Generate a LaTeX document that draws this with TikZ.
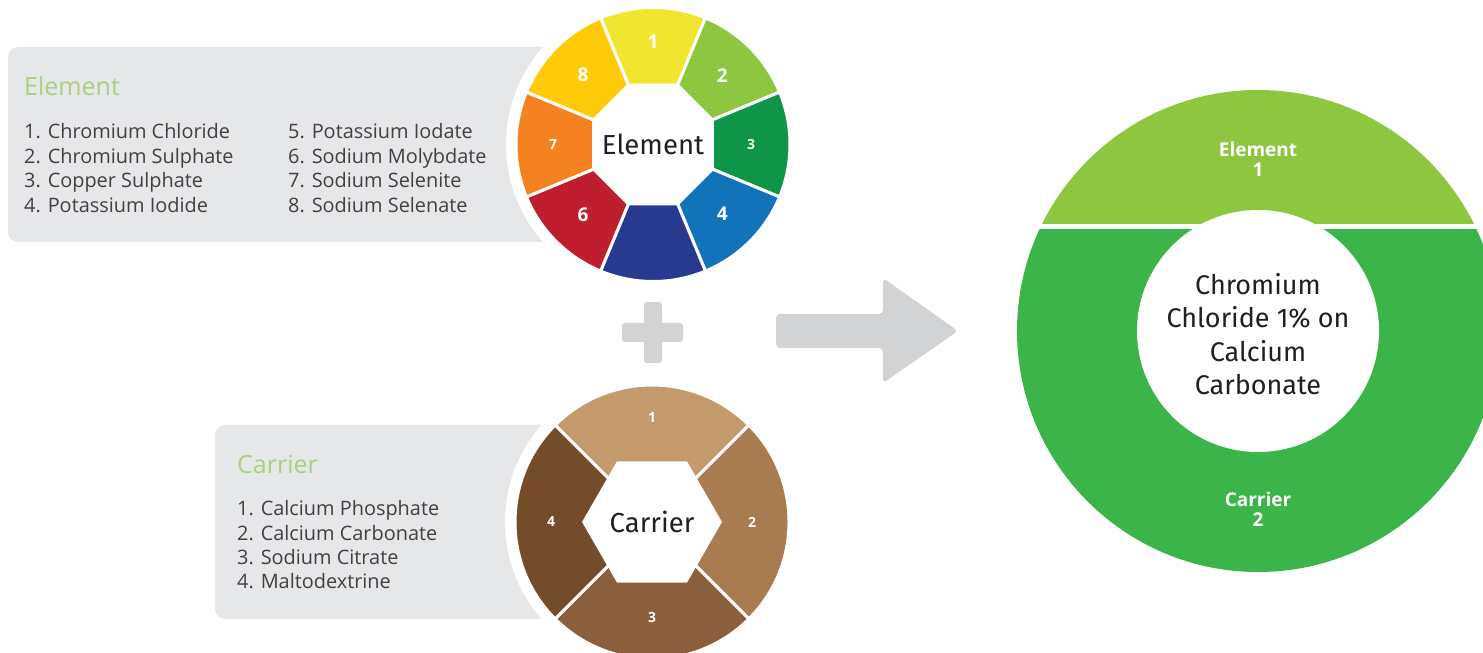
\documentclass[tikz,border=0pt]{standalone}
\usepackage{fontspec}
\setmainfont{Open Sans}
\newfontfamily\fira{Fira Sans}
\usetikzlibrary{shapes.geometric,calc}
\definecolor{panelgray}{HTML}{E6E7E8}
\definecolor{signgray}{HTML}{D1D3D4}
\definecolor{titlegreen}{HTML}{A6D27F}
\definecolor{txt}{HTML}{414042}
\definecolor{txtdark}{HTML}{231F20}
\definecolor{e1}{HTML}{F2E52F}
\definecolor{e2}{HTML}{8DC63F}
\definecolor{e3}{HTML}{0F9547}
\definecolor{e4}{HTML}{1174BB}
\definecolor{e5}{HTML}{283A8F}
\definecolor{e6}{HTML}{BE1E2D}
\definecolor{e7}{HTML}{F48221}
\definecolor{e8}{HTML}{FFCB08}
\definecolor{c1}{HTML}{C49A6C}
\definecolor{c2}{HTML}{A87B50}
\definecolor{c3}{HTML}{8B5E3C}
\definecolor{c4}{HTML}{754C29}
\definecolor{lgreen}{HTML}{8DC63F}
\definecolor{dgreen}{HTML}{3BB54A}
\tikzset{
  panel/.style={fill=panelgray, rounded corners=10pt},
  wedge/.style={draw=white, line width=3pt, line join=miter},
  listtxt/.style={anchor=base west, inner sep=0, text=txt, font=\fontsize{19.9}{24}\selectfont},
  ttl/.style={anchor=base west, inner sep=0, text=titlegreen, font=\fontsize{25}{30}\selectfont},
  num/.style={text=white, inner sep=0, font=\bfseries\fontsize{19}{19}\selectfont},
  smallnum/.style={text=white, inner sep=0, font=\bfseries\fontsize{14}{14}\selectfont},
  hubtxt/.style={text=txtdark, inner sep=0, font=\fira\fontsize{27.5}{30}\selectfont},
  signs/.style={fill=signgray, rounded corners=3pt},
  donutlbl/.style={text=white, inner sep=0, align=center, font=\bfseries\fontsize{19}{20}\selectfont}
}
\begin{document}
\begin{tikzpicture}[x=1pt,y=1pt]
\useasboundingbox (0,0) rectangle (1483,653);
% panels
\fill[panel] (8,411) rectangle (640,606);
\fill[panel] (215,34) rectangle (640,228);
\coordinate (EW) at (653,508.5);
\coordinate (CW) at (652,131);
\fill[white] (EW) circle (147);
\fill[white] (CW) circle (147);
% element list
\node[ttl] (etitle) at (24,557) {Element};
\foreach \t [count=\k] in {1. Chromium Chloride, 2. Chromium Sulphate, 3. Copper Sulphate, 4. Potassium Iodide}
  \node[listtxt] (el\k) at (24,{514-24.5*(\k-1)}) {\t};
\foreach \t [count=\k] in {5. Potassium Iodate, 6. Sodium Molybdate, 7. Sodium Selenite, 8. Sodium Selenate}
  \node[listtxt] (er\k) at (288,{514-24.5*(\k-1)}) {\t};
% carrier list
\node[ttl] (ctitle) at (237,179) {Carrier};
\foreach \t [count=\k] in {1. Calcium Phosphate, 2. Calcium Carbonate, 3. Sodium Citrate, 4. Maltodextrine}
  \node[listtxt] (cl\k) at (237,{137-24.3*(\k-1)}) {\t};
% element wheel
\foreach \c [count=\i] in {e1,e2,e3,e4,e5,e6,e7,e8}{
  \pgfmathsetmacro{\th}{90-45*(\i-1)}
  \fill[\c, wedge] (EW) -- ++({\th+22.5}:137) arc[start angle={\th+22.5}, end angle={\th-22.5}, radius=137] -- cycle;
}
\node[regular polygon, regular polygon sides=8, minimum size=132, fill=white, inner sep=0] (oct) at (EW) {};
\node[hubtxt] (ehub) at (EW) {Element};
\node[num] (n1) at ($(EW)+(90:103)$) {1};
\node[num] (n2) at ($(EW)+(45:98)$) {2};
\node[smallnum] (n3) at ($(EW)+(0:98)$) {3};
\node[num] (n4) at ($(EW)+(-45:98)$) {4};
\node[num] (n6) at ($(EW)+(-135:99)$) {6};
\node[smallnum] (n7) at ($(EW)+(180:100)$) {7};
\node[num] (n8) at ($(EW)+(135:99)$) {8};
% carrier wheel
\foreach \c/\th in {c1/90,c2/0,c3/270,c4/180}{
  \fill[\c, wedge] (CW) -- ++({\th+45}:137) arc[start angle={\th+45}, end angle={\th-45}, radius=137] -- cycle;
}
\node[regular polygon, regular polygon sides=6, minimum size=140, fill=white, inner sep=0] (hex) at (CW) {};
\node[hubtxt] (chub) at (CW) {Carrier};
\node[smallnum] (m1) at ($(CW)+(90:104)$) {1};
\node[smallnum] (m2) at ($(CW)+(0:100)$) {2};
\node[smallnum] (m3) at ($(CW)+(-90:96)$) {3};
\node[smallnum] (m4) at ($(CW)+(180:101)$) {4};
% plus
\fill[signs] (622,311) rectangle (683,330);
\fill[signs] (644,290) rectangle (662,351);
% arrow
\fill[signs, rounded corners=4pt] (776,305) -- (776,339) -- (883,339) -- (883,375) -- (958,322) -- (883,270) -- (883,305) -- cycle;
% result donut
\coordinate (D) at (1258,322);
\begin{scope}
  \clip (1000,429) rectangle (1483,653);
  \fill[lgreen] (D) circle (241);
\end{scope}
\begin{scope}
  \clip (1000,0) rectangle (1483,423);
  \fill[dgreen] (D) circle (241);
\end{scope}
\node[circle, fill=white, minimum size=242, inner sep=0] (mix) at (D) {};
\node[text=txtdark, align=center, inner sep=0, font=\fira\fontsize{27}{33.3}\selectfont] (mixtxt) at (1258,319) {Chromium\\Chloride 1\% on\\Calcium\\Carbonate};
\node[donutlbl] (lbe) at (1258,494) {Element\\1};
\node[donutlbl] (lbc) at (1258,144) {Carrier\\2};
\end{tikzpicture}
\end{document}
